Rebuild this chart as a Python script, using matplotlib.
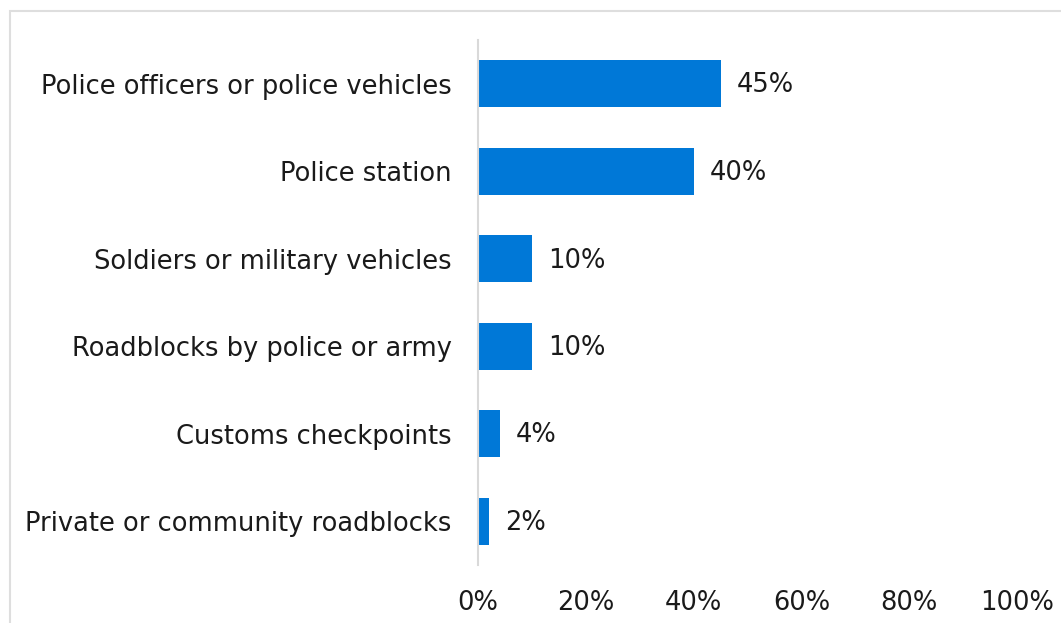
import numpy as np
import matplotlib.pyplot as plt
from matplotlib.patches import Rectangle

# categorías (de arriba a abajo) y porcentajes
categorias = ["Police officers or police vehicles",
              "Police station",
              "Soldiers or military vehicles",
              "Roadblocks by police or army",
              "Customs checkpoints",
              "Private or community roadblocks"]
valores = [45, 40, 10, 10, 4, 2]
ticks_x = [0, 20, 40, 60, 80, 100]

plt.rcParams['font.family'] = ['DejaVu Sans']
color_barra = "#0078d7"
color_texto = "#1a1a1a"
tam = 18.5

fig = plt.figure(figsize=(10.61, 6.23), dpi=100)
fig.patches.append(Rectangle((10/1061, -0.1), 1.2, 1 - 11/623 + 0.1,
                             transform=fig.transFigure, fill=False,
                             edgecolor="#dedede", linewidth=1.5))

ax = fig.add_axes([478/1061, 58/623, 539/1061, 525/623])
y = np.arange(len(categorias))
ax.barh(y, valores, height=0.54, color=color_barra)
for yi, v in zip(y, valores):
    ax.text(v + 3.0, yi + 0.02, f"{v}%", va="center", ha="left",
            fontsize=tam, color=color_texto)

ax.set_xlim(0, 100)
ax.set_ylim(len(categorias) - 0.5, -0.5)
ax.set_yticks(y)
ax.set_yticklabels(categorias, fontsize=tam, color=color_texto)
ax.set_xticks(ticks_x)
ax.set_xticklabels([f"{t}%" for t in ticks_x], fontsize=tam, color=color_texto)
ax.tick_params(axis="both", length=0)
ax.tick_params(axis="y", pad=19)
ax.tick_params(axis="x", pad=18)

for lado in ["top", "right", "bottom"]:
    ax.spines[lado].set_visible(False)
ax.spines["left"].set_color("#d9d9d9")
ax.spines["left"].set_linewidth(1.5)

fig.savefig("out.png", dpi=100)
